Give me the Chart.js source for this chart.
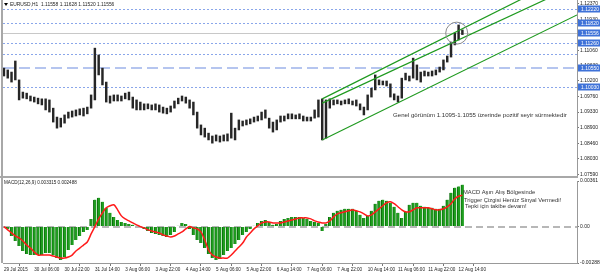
<!DOCTYPE html>
<html lang="tr">
<head>
<meta charset="UTF-8">
<title>EURUSD H1</title>
<script src="https://cdn.jsdelivr.net/npm/chart.js@4.4.0/dist/chart.umd.min.js"></script>
<style>
  html, body { margin: 0; padding: 0; background: #fff; }
  #wrap { position: relative; width: 600px; height: 275px; overflow: hidden; background: #fff; }
  canvas { position: absolute; left: 0; }
  #price { top: 0; }
  #macd { top: 178px; }
</style>
</head>
<body>
<div id="wrap">
  <canvas id="price" width="600" height="178"></canvas>
  <canvas id="macd" width="600" height="97"></canvas>
</div>
<script>
// one bar = 2 hours, hour 0 = 29 Jul 14:00
const barHours = 2;
const highs = [1.1056,1.1051,1.1045,1.1076,1.1023,1.0989,1.0986,1.0978,1.0975,1.0972,
  1.0970,1.0970,1.0967,1.0944,1.0919,1.0916,1.0925,1.0933,1.0936,1.0939,
  1.0942,1.0944,1.0947,1.0981,1.1112,1.1093,1.1056,1.1017,1.0978,1.0981,
  1.0981,1.0978,1.0986,1.0989,1.0975,1.0967,1.0961,1.0956,1.0956,1.0953,
  1.0956,1.0953,1.0947,1.0944,1.0950,1.0964,1.0972,1.0978,1.0975,1.0967,
  1.0961,1.0933,1.0897,1.0888,1.0874,1.0866,1.0869,1.0866,1.0869,1.0872,
  1.0930,1.0888,1.0911,1.0908,1.0911,1.0914,1.0919,1.0922,1.0933,1.0939,
  1.0916,1.0905,1.0911,1.0922,1.0922,1.0928,1.0928,1.0925,1.0928,1.0922,
  1.0919,1.0919,1.0939,1.0967,1.0970,1.0967,1.0970,1.0967,1.0967,1.0964,
  1.0967,1.0970,1.0964,1.0967,1.0956,1.0947,1.0981,1.1000,1.1037,1.1023,
  1.1020,1.1020,1.1012,1.0984,1.0978,1.1028,1.1042,1.1034,1.1084,1.1065,
  1.1045,1.1048,1.1045,1.1048,1.1051,1.1059,1.1079,1.1090,1.1129,1.1154,
  1.1177,1.1163];
const lows = [1.1034,1.1028,1.1017,1.1023,1.0967,1.0972,1.0970,1.0964,1.0961,1.0956,
  1.0953,1.0939,1.0933,1.0905,1.0888,1.0891,1.0902,1.0916,1.0919,1.0922,
  1.0925,1.0922,1.0928,1.0944,1.0967,1.1037,1.1009,1.0961,1.0958,1.0964,
  1.0964,1.0964,1.0970,1.0967,1.0944,1.0939,1.0939,1.0939,1.0942,1.0939,
  1.0939,1.0933,1.0930,1.0928,1.0933,1.0944,1.0956,1.0964,1.0958,1.0944,
  1.0925,1.0888,1.0869,1.0863,1.0855,1.0846,1.0852,1.0849,1.0852,1.0852,
  1.0860,1.0855,1.0883,1.0894,1.0897,1.0900,1.0905,1.0908,1.0911,1.0916,
  1.0888,1.0877,1.0883,1.0905,1.0908,1.0914,1.0914,1.0914,1.0914,1.0908,
  1.0908,1.0908,1.0916,1.0919,1.0855,1.0860,1.0944,1.0953,1.0956,1.0953,
  1.0956,1.0956,1.0953,1.0950,1.0939,1.0925,1.0939,1.0975,1.0995,1.1009,
  1.1009,1.1006,1.0975,1.0967,1.0961,1.0972,1.1023,1.1020,1.1028,1.1023,
  1.1017,1.1034,1.1034,1.1034,1.1037,1.1045,1.1051,1.1073,1.1087,1.1121,
  1.1135,1.1150];
const macdHist = [0,-0.00018,-0.00074,-0.00114,-0.00154,-0.00193,-0.00217,-0.00225,-0.00225,-0.00225,
  -0.00225,-0.00209,-0.00209,-0.00225,-0.00249,-0.00265,-0.00241,-0.00185,-0.00146,-0.00106,
  -0.00074,-0.00042,-0.00026,0.00060,0.00213,0.00228,0.00197,0.00149,0.00109,0.00077,
  0.00053,0.00037,0.00029,0.00021,0.00014,0.00006,-0.00002,-0.00018,-0.00034,-0.0005,
  -0.00058,-0.00066,-0.00074,-0.00082,-0.00066,-0.00042,0.00006,0.00029,0.00021,-0.00018,
  -0.00066,-0.00106,-0.0013,-0.0017,-0.00217,-0.00249,-0.00265,-0.00257,-0.00225,-0.00193,
  -0.0017,-0.00138,-0.00106,-0.00066,-0.00042,-0.00018,0.00006,0.00029,0.00045,0.00053,
  0.00037,0.00014,0.00021,0.00045,0.00061,0.00069,0.00077,0.00077,0.00077,0.00069,
  0.00061,0.00045,0.00037,0.00029,-0.00034,0.00021,0.00077,0.00109,0.00125,0.00133,
  0.00141,0.00141,0.00141,0.00125,0.00093,0.00069,0.00085,0.00125,0.00181,0.00205,
  0.00213,0.00205,0.00189,0.00157,0.00109,0.00069,0.00117,0.00173,0.00189,0.00189,
  0.00165,0.00157,0.00149,0.00149,0.00141,0.00141,0.00165,0.00213,0.00268,0.00308,
  0.00318,0.00332];
const macdSignal = [0,-0.00026,-0.0005,-0.00074,-0.0009,-0.00114,-0.00146,-0.0017,-0.00201,-0.00225,
  -0.00225,-0.00225,-0.00225,-0.00233,-0.00241,-0.00249,-0.00249,-0.00241,-0.00225,-0.00193,
  -0.0017,-0.00146,-0.00122,-0.00058,0,0.00061,0.00109,0.00149,0.00165,0.00173,
  0.00133,0.00085,0.00061,0.00045,0.00029,0.00014,0,-0.0001,-0.00026,-0.00034,
  -0.00042,-0.0005,-0.00066,-0.00074,-0.00082,-0.00074,-0.00058,-0.00042,-0.00018,0,
  -0.0001,-0.00018,-0.00042,-0.00106,-0.00185,-0.00225,-0.00241,-0.00249,-0.00249,-0.00249,
  -0.00225,-0.00193,-0.00162,-0.0013,-0.00082,-0.0005,-0.00018,0.00006,0.00029,0.00037,
  0.00037,0.00029,0.00029,0.00029,0.00037,0.00045,0.00053,0.00061,0.00069,0.00069,
  0.00069,0.00061,0.00045,0.00037,0.00029,0.00029,0.00045,0.00077,0.00101,0.00109,
  0.00117,0.00125,0.00133,0.00125,0.00117,0.00101,0.00085,0.00093,0.00117,0.00141,
  0.00165,0.00189,0.00197,0.00181,0.00157,0.00133,0.00117,0.00117,0.00133,0.00149,
  0.00149,0.00149,0.00149,0.00141,0.00133,0.00133,0.00141,0.00157,0.00181,0.00221,
  0.0024,0.00249];

const timeLabels = ['29 Jul 2015','30 Jul 06:00','30 Jul 22:00','31 Jul 14:00','3 Aug 06:00','3 Aug 22:00',
  '4 Aug 14:00','5 Aug 06:00','5 Aug 22:00','6 Aug 14:00','7 Aug 06:00','7 Aug 22:00',
  '10 Aug 14:00','11 Aug 06:00','11 Aug 22:00','12 Aug 14:00'];
const labelStepHours = 16;
const priceTicks = [1.12370,1.11930,1.11500,1.11060,1.10630,1.10200,1.09760,1.09330,1.08900,1.08460,1.08030,1.07590];
const levelPrices = [1.12220,1.11820,1.11260,1.10950,1.10030];
const labelledLevels = [1.12220,1.11820,1.11260,1.10550,1.10030,1.11556];
const dashedLevel = 1.10550;
const bidPrice = 1.11556;
const channelHours = [168, 302.5];
const channelLower = [1.0855, 1.1205];
const channelUpperA = [1.0970, 1.1327];
const channelUpperB = [1.0958, 1.1289];
const circleHour = 239, circlePrice = 1.1154;
const macdTicks = [0.00361, 0, -0.00288];
const hourMin = -0.5, hourMax = 302.5;
const priceMin = 1.0754, priceMax = 1.12468;

Chart.defaults.font.family = '"Liberation Sans", Arial, sans-serif';
Chart.defaults.font.size = 5;
Chart.defaults.color = '#222';

const axisFont = '5px "Liberation Sans", Arial, sans-serif';

const priceDecor = {
  id: 'priceDecor',
  beforeDatasetsDraw(chart) {
    const { ctx, chartArea: a, scales: { y } } = chart;
    ctx.save();
    ctx.lineWidth = 1;
    ctx.strokeStyle = '#8aa6ea';
    ctx.setLineDash([2, 2]);
    for (const p of levelPrices.concat([bidPrice])) {
      const py = Math.round(y.getPixelForValue(p)) + 0.5;
      ctx.beginPath(); ctx.moveTo(a.left, py); ctx.lineTo(a.right, py); ctx.stroke();
    }
    ctx.setLineDash([11, 5]);
    ctx.strokeStyle = '#9db2ea';
    ctx.lineWidth = 1.5;
    let py = Math.round(y.getPixelForValue(dashedLevel));
    ctx.beginPath(); ctx.moveTo(a.left, py); ctx.lineTo(a.right, py); ctx.stroke();
    ctx.setLineDash([]);
    ctx.strokeStyle = '#c8c8c8';
    ctx.lineWidth = 1;
    py = Math.round(y.getPixelForValue(bidPrice)) + 0.5;
    ctx.beginPath(); ctx.moveTo(a.left, py); ctx.lineTo(a.right, py); ctx.stroke();
    ctx.restore();
  },
  afterDraw(chart) {
    const { ctx, chartArea: a, scales: { y } } = chart;
    ctx.save();
    // highlighted level labels on the axis
    ctx.font = axisFont;
    ctx.textBaseline = 'middle';
    for (const p of labelledLevels) {
      const py = Math.round(y.getPixelForValue(p));
      ctx.fillStyle = '#3f72d8';
      ctx.fillRect(a.right + 1, py - 3.5, 600 - a.right - 1, 7);
      ctx.fillStyle = '#fff';
      ctx.fillText(p.toFixed(5), a.right + 4, py + 0.5);
    }
    // frame
    ctx.fillStyle = '#a8a8a8';
    ctx.fillRect(1, 0, 2, chart.height);
    ctx.fillRect(0, a.bottom, a.right + 1, 2);
    // texts
    ctx.fillStyle = '#000';
    ctx.beginPath(); ctx.moveTo(4, 3); ctx.lineTo(8, 3); ctx.lineTo(6, 6); ctx.closePath(); ctx.fill();
    ctx.fillStyle = '#222';
    ctx.font = '4.9px "Liberation Sans", Arial, sans-serif';
    ctx.textBaseline = 'middle';
    ctx.fillText('EURUSD,H1  1.11558 1.11628 1.11520 1.11556', 10, 5);
    ctx.font = '6.1px "Liberation Sans", Arial, sans-serif';
    ctx.fillStyle = '#333';
    ctx.fillText('Genel görünüm 1.1095-1.1055 üzerinde pozitif seyir sürmektedir', 393, 115);
    ctx.restore();
  }
};

const macdDecor = {
  id: 'macdDecor',
  beforeDatasetsDraw(chart) {
    const { ctx, chartArea: a, scales: { y } } = chart;
    ctx.save();
    ctx.strokeStyle = '#a0a0a0';
    ctx.lineWidth = 1.5;
    ctx.setLineDash([7, 4]);
    const py = Math.round(y.getPixelForValue(0));
    ctx.beginPath(); ctx.moveTo(a.left, py); ctx.lineTo(a.right, py); ctx.stroke();
    ctx.restore();
  },
  afterDraw(chart) {
    const { ctx, chartArea: a } = chart;
    ctx.save();
    ctx.fillStyle = '#a8a8a8';
    ctx.fillRect(1, 0, 2, a.bottom);
    ctx.font = '4.6px "Liberation Sans", Arial, sans-serif';
    ctx.fillStyle = '#222';
    ctx.textBaseline = 'middle';
    ctx.fillText('MACD(12,26,9) 0.003315 0.002488', 4, 5);
    ctx.font = '5.8px "Liberation Sans", Arial, sans-serif';
    ctx.fillStyle = '#333';
    ctx.fillText('MACD Aşırı Alış Bölgesinde', 463, 14.5);
    ctx.fillText('Trigger Çizgisi Henüz Sinyal Vermedi!', 464, 22);
    ctx.fillText('Tepki için takibe devam!', 465, 28.5);
    ctx.restore();
  }
};

function fixedY(width) {
  return function (scale) {
    scale.width = width;
    scale.paddingTop = 0;
    scale.paddingBottom = 0;
  };
}

const barX = highs.map((_, i) => i * barHours);

new Chart(document.getElementById('price'), {
  type: 'bar',
  data: {
    datasets: [
      {
        data: barX.map((x, i) => ({ x: x, y: [lows[i], highs[i]] })),
        backgroundColor: '#262626',
        barThickness: 1.8,
        order: 2
      },
      {
        type: 'line',
        data: channelHours.map((x, i) => ({ x: x, y: channelLower[i] })),
        borderColor: '#1f9a1f', borderWidth: 1.2, pointRadius: 0, order: 1
      },
      {
        type: 'line',
        data: channelHours.map((x, i) => ({ x: x, y: channelUpperA[i] })),
        borderColor: '#1f9a1f', borderWidth: 1.2, pointRadius: 0, order: 1
      },
      {
        type: 'line',
        data: channelHours.map((x, i) => ({ x: x, y: channelUpperB[i] })),
        borderColor: '#1f9a1f', borderWidth: 1.2, pointRadius: 0, order: 1
      },
      {
        type: 'line',
        data: [{ x: circleHour, y: circlePrice }],
        showLine: false, pointRadius: 11, pointBorderWidth: 1,
        pointBorderColor: '#8a8a8a', pointBackgroundColor: 'rgba(0,0,0,0)', order: 0
      }
    ]
  },
  options: {
    responsive: false,
    animation: false,
    events: [],
    layout: { autoPadding: false, padding: { left: 3, top: 0, right: 0, bottom: 2 } },
    plugins: { legend: { display: false }, tooltip: { enabled: false } },
    scales: {
      x: { type: 'linear', min: hourMin, max: hourMax, offset: false, display: false },
      y: {
        position: 'right', min: priceMin, max: priceMax,
        afterBuildTicks: s => { s.ticks = priceTicks.map(v => ({ value: v })); },
        afterFit: fixedY(23),
        ticks: { padding: 1, callback: v => v.toFixed(5) },
        grid: { drawOnChartArea: false, tickLength: 2, color: '#777' },
        border: { color: '#999' }
      }
    }
  },
  plugins: [priceDecor]
});

new Chart(document.getElementById('macd'), {
  type: 'bar',
  data: {
    datasets: [
      {
        data: barX.map((x, i) => ({ x: x, y: macdHist[i] })),
        backgroundColor: '#1f9e1f',
        borderColor: '#0c6d0c',
        borderWidth: { left: 1 },
        borderSkipped: false,
        barThickness: 3,
        order: 2
      },
      {
        type: 'line',
        data: barX.map((x, i) => ({ x: x, y: macdSignal[i] })),
        borderColor: '#ff1a1a', borderWidth: 1.5, pointRadius: 0, tension: 0.3, order: 1
      }
    ]
  },
  options: {
    responsive: false,
    animation: false,
    events: [],
    layout: { autoPadding: false, padding: { left: 3, top: 3, right: 0, bottom: 0 } },
    plugins: { legend: { display: false }, tooltip: { enabled: false } },
    scales: {
      x: {
        type: 'linear', min: hourMin, max: hourMax, offset: false, position: 'bottom',
        afterBuildTicks: s => { s.ticks = timeLabels.map((_, k) => ({ value: k * labelStepHours })); },
        afterFit: s => { s.height = 12; s.paddingLeft = 0; s.paddingRight = 0; },
        ticks: {
          autoSkip: false, maxRotation: 0, align: 'start', padding: 1,
          font: { size: 4.6 },
          callback: v => timeLabels[Math.round(v / labelStepHours)]
        },
        grid: { drawOnChartArea: false, tickLength: 3, color: '#777' },
        border: { color: '#999' }
      },
      y: {
        position: 'right', min: macdTicks[2], max: macdTicks[0],
        afterBuildTicks: s => { s.ticks = macdTicks.map(v => ({ value: v })); },
        afterFit: fixedY(23),
        ticks: { padding: 1, callback: v => (v === 0 ? '0.00' : v.toFixed(5)) },
        grid: { drawOnChartArea: false, tickLength: 2, color: '#777' },
        border: { color: '#999' }
      }
    }
  },
  plugins: [macdDecor]
});
</script>
</body>
</html>
